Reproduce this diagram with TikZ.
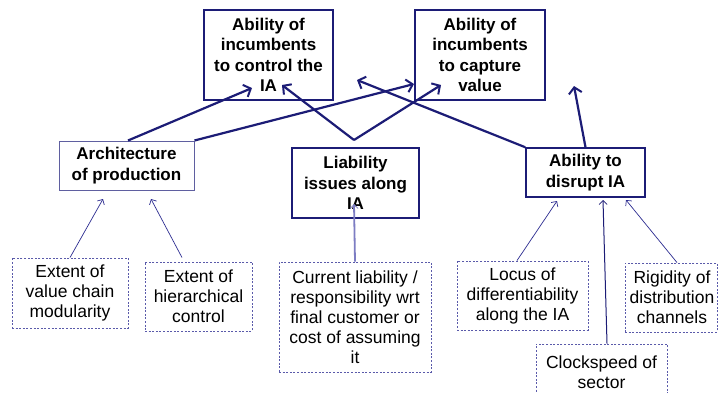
\documentclass[tikz,border=0pt]{standalone}
\usepackage{fontspec}
\setmainfont{Liberation Sans}
\usetikzlibrary{arrows.meta}
\definecolor{navy}{RGB}{28,28,118}
\definecolor{archline}{RGB}{95,95,160}
\definecolor{dashblue}{RGB}{90,90,170}
\definecolor{thinblue}{RGB}{45,45,145}
\definecolor{paleblue}{RGB}{125,125,195}
\tikzset{
  keybox/.style={draw=navy, line width=1.5pt, align=center, inner sep=0pt,
    font=\fontsize{17}{20.5}\selectfont\bfseries},
  factorbox/.style={draw=dashblue, line width=0.9pt, dash pattern=on 2pt off 1.6pt,
    align=center, inner sep=0pt, font=\fontsize{17.5}{20}\selectfont},
  thick link/.style={draw=navy, line width=2.2pt,
    -{Straight Barb[length=6pt,width=13pt,line width=2pt]}},
  thin link/.style={draw=thinblue, line width=0.7pt,
    -{Straight Barb[length=4pt,width=8pt,line width=0.7pt]}},
}
\begin{document}
\begin{tikzpicture}[x=1pt,y=-1pt]
\clip (0,0) rectangle (719,392);
\fill[white] (0,0) rectangle (719,392);

% outcome boxes
\node[keybox, minimum width=129pt, minimum height=90pt] (control) at (268.5,55)
  {Ability of\\incumbents\\to control the\\IA};
\node[keybox, minimum width=130pt, minimum height=90pt] (capture) at (480,55)
  {Ability of\\incumbents\\to capture\\value};

% driver boxes
\node[keybox, draw=archline, line width=1pt, minimum width=135pt, minimum height=49pt]
  (arch) at (126.5,165.5) {Architecture\\of production};
\node[keybox, minimum width=127pt, minimum height=70pt] (liab) at (355.5,183)
  {Liability\\issues along\\IA};
\node[keybox, minimum width=119pt, minimum height=49pt] (disrupt) at (585.5,172.5)
  {Ability to\\disrupt IA};

% factor boxes
\node[factorbox, minimum width=116pt, minimum height=70pt] (chain) at (70,293)
  {Extent of\\value chain\\modularity};
\node[factorbox, minimum width=107pt, minimum height=69pt] (hier) at (198.5,296.5)
  {Extent of\\hierarchical\\control};
\node[factorbox, minimum width=152pt, minimum height=110pt] (resp) at (355,317)
  {Current liability /\\responsibility wrt\\final customer or\\cost of assuming\\it};
\node[factorbox, minimum width=131pt, minimum height=69pt] (locus) at (522.5,295.5)
  {Locus of\\differentiability\\along the IA};
\node[factorbox, minimum width=92pt, minimum height=69pt] (rigid) at (671,297.5) {};
\node[font=\fontsize{17.5}{20}\selectfont, align=center, inner sep=0pt] (rigidtext)
  at (672,297.5) {Rigidity of\\distribution\\channels};
\node[factorbox, minimum width=131pt, minimum height=56pt] (clock) at (601.5,372)
  {Clockspeed of\\sector};

% arrow end points
\coordinate (tipA) at (252,88);
\coordinate (tipB) at (414,84);
\coordinate (vtx) at (354,140);
\coordinate (tipC) at (282,85);
\coordinate (tipD) at (441,85);
\coordinate (tipE) at (357,80);
\coordinate (tipF) at (574,86);

% main influences
\draw[thick link] ([xshift=1.5pt]arch.north) -- (tipA);
\draw[thick link] (arch.north east) -- (tipB);
\draw[thick link] (vtx) -- (tipC);
\draw[thick link] (vtx) -- (tipD);
\draw[thick link] (disrupt.north west) -- (tipE);
\draw[thick link] (disrupt.north) -- (tipF);

% factor influences
\draw[thin link] (chain.north) -- (103,199);
\draw[thin link] ([xshift=-16.5pt,yshift=4pt]hier.north) -- (151,199);
\draw[thin link, draw=paleblue, line width=1.8pt] (resp.north) -- (354,204);
\draw[thin link] ([xshift=-5.5pt]locus.north) -- (557,201);
\draw[thin link, draw=navy, line width=1pt] ([xshift=5.5pt]clock.north) -- (603,200);
\draw[thin link] ([xshift=6pt]rigid.north) -- (626,200);
\end{tikzpicture}
\end{document}
